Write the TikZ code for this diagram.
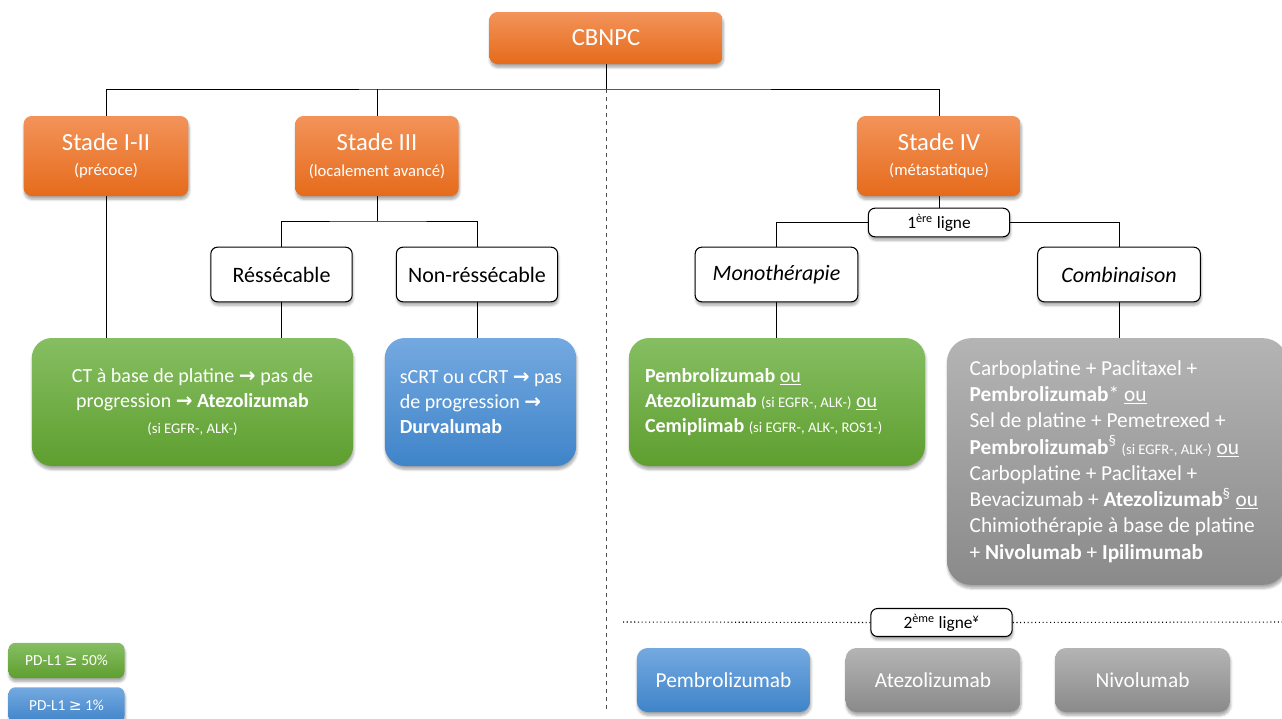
\documentclass[tikz,border=0pt]{standalone}
\usepackage{fontspec}
\setmainfont{Carlito}
\newfontfamily\symf{DejaVu Sans}
\usetikzlibrary{shadows.blur}
\definecolor{or1}{HTML}{F3935A}
\definecolor{or2}{HTML}{E56B1B}
\definecolor{gr1}{HTML}{86BE62}
\definecolor{gr2}{HTML}{5E9F2F}
\definecolor{bl1}{HTML}{74A9E0}
\definecolor{bl2}{HTML}{3F84C9}
\definecolor{gy1}{HTML}{B4B4B4}
\definecolor{gy2}{HTML}{8A8A8A}
\newcommand\arr{{\symf\bfseries →}}
\newcommand\smallsi{\fontsize{11}{13}\selectfont}
\newcommand\fsz[2]{\fontsize{#1}{#2}\selectfont}
\begin{document}
\begin{tikzpicture}[x=0.75pt,y=-0.75pt,
  shd/.style={blur shadow={shadow blur steps=6,shadow xshift=0.5pt,shadow yshift=-2.5pt,shadow opacity=35}},
  colbox/.style={shd,draw=none,text=white,inner sep=0pt},
  ob/.style={colbox,top color=or1,bottom color=or2,rounded corners=6pt,align=center},
  gb/.style={colbox,top color=gr1,bottom color=gr2},
  bb/.style={colbox,top color=bl1,bottom color=bl2},
  yb/.style={colbox,top color=gy1,bottom color=gy2},
  wb/.style={shd,draw=black,line width=0.8pt,fill=white,rounded corners=5pt,inner sep=0pt},
  ln/.style={line width=0.75pt},
]
\useasboundingbox (0,0) rectangle (1282,718);

% top level
\node[ob,minimum width=175pt,minimum height=39pt,font=\fsz{18.5}{22}] (cb) at (606,38) {CBNPC};
\node[ob,minimum width=123.5pt,minimum height=60pt,font=\fsz{12.5}{19}] (s12) at (106,156) {{\fsz{18.5}{19}Stade I-II}\\(précoce)};
\node[ob,minimum width=122.5pt,minimum height=60pt,font=\fsz{12.5}{19}] (s3) at (377,156) {{\fsz{18.5}{19}Stade III}\\(localement avancé)};
\node[ob,minimum width=122.5pt,minimum height=60pt,font=\fsz{12.5}{19}] (s4) at (939,156) {{\fsz{18.5}{19}Stade IV}\\(métastatique)};

% white boxes
\node[wb,minimum width=106pt,minimum height=41pt,font=\fsz{16.5}{19}] (res) at (281.5,274.5) {Réssécable};
\node[wb,minimum width=121pt,minimum height=41pt,font=\fsz{16.5}{19}] (nres) at (477,274.5) {Non-réssécable};
\node[wb,minimum width=122pt,minimum height=41pt,font=\fsz{16.5}{19}\itshape] (mono) at (776.5,274.5) {Monothérapie};
\node[wb,minimum width=122pt,minimum height=41pt,font=\fsz{16.5}{19}\itshape] (comb) at (1119,274.5) {Combinaison};
\node[wb,minimum width=106pt,minimum height=21.5pt,font=\fsz{13}{15}] (l1) at (939,222.5) {1\textsuperscript{ère} ligne};
\node[wb,minimum width=106pt,minimum height=21pt,font=\fsz{13}{15}] (l2) at (941.5,622.5) {2\textsuperscript{ème} ligne\textsuperscript{¥}};

% treatment boxes
\node[gb,rounded corners=15pt,minimum width=241pt,minimum height=96pt,align=center,font=\fsz{15}{19}] (g1) at (192.5,402) {CT à base de platine \arr{} pas de\\progression \arr{} \textbf{Atezolizumab}\\{\smallsi (si EGFR-, ALK-)}};
\node[bb,rounded corners=15pt,minimum width=143.5pt,minimum height=96pt,text width=121pt,align=flush left,font=\fsz{15}{19}] (b1) at (480.5,402) {\mbox{sCRT ou cCRT \arr{} pas}\\\mbox{de progression \arr{}}\\\mbox{\textbf{Durvalumab}}};
\node[gb,rounded corners=15pt,minimum width=222pt,minimum height=96pt,text width=198pt,align=flush left,font=\fsz{15}{19}] (g2) at (777,402) {\mbox{\textbf{Pembrolizumab} \underline{ou}}\\\mbox{\textbf{Atezolizumab} {\smallsi (si EGFR-, ALK-)} \underline{ou}}\\\mbox{\textbf{Cemiplimab} {\smallsi (si EGFR-, ALK-, ROS1-)}}};
\node[yb,rounded corners=18pt,minimum width=255pt,minimum height=185pt,text width=221pt,align=flush left,font=\fsz{16}{19.7}] (gy) at (1117,461.5) {\mbox{Carboplatine + Paclitaxel +}\\\mbox{\textbf{Pembrolizumab}* \underline{ou}}\\\mbox{Sel de platine + Pemetrexed +}\\\mbox{\textbf{Pembrolizumab}\textsuperscript{§} {\smallsi (si EGFR-, ALK-)} \underline{ou}}\\\mbox{Carboplatine + Paclitaxel +}\\\mbox{Bevacizumab + \textbf{Atezolizumab}\textsuperscript{§} \underline{ou}}\\\mbox{Chimiothérapie à base de platine}\\\mbox{+ \textbf{Nivolumab} + \textbf{Ipilimumab}}};

% second line boxes
\node[bb,rounded corners=8pt,minimum width=130pt,minimum height=48pt,font=\fsz{16}{19}] (p2) at (723.5,680) {Pembrolizumab};
\node[yb,rounded corners=8pt,minimum width=131pt,minimum height=48pt,font=\fsz{16}{19}] (a2) at (933,680) {Atezolizumab};
\node[yb,rounded corners=8pt,minimum width=131pt,minimum height=48pt,font=\fsz{16}{19}] (n2) at (1142.5,680) {Nivolumab};

% legend
\node[gb,rounded corners=5pt,minimum width=87pt,minimum height=26.5pt,font=\fsz{11.5}{14}] (lg) at (66.5,660.5) {PD-L1 {\symf ≥} 50\%};
\node[bb,rounded corners=5pt,minimum width=87pt,minimum height=26.5pt,font=\fsz{11.5}{14}] (lb) at (66.5,705) {PD-L1 {\symf ≥} 1\%};

% connectors
\coordinate (bus) at (606,89);
\coordinate (j3) at (377,221);
\coordinate (dend) at (606,712);
\coordinate (dl) at (623,622);
\coordinate (dr) at (1282,622);
\draw[ln] (cb.south) -- (bus);
\draw[ln] (s12.north) |- (bus) -| (s4.north);
\draw[ln] (s3.north) -- (s3.north |- bus);
\draw[ln] (s12.south) -- (s12.south |- g1.north);
\draw[ln] (s3.south) -- (j3);
\draw[ln] (res.north) |- (j3) -| (nres.north);
\draw[ln] (res.south) -- (res.south |- g1.north);
\draw[ln] (nres.south) -- (nres.south |- b1.north);
\draw[ln] (s4.south) -- (l1.north);
\draw[ln] (mono.north) |- (l1.west);
\draw[ln] (comb.north) |- (l1.east);
\draw[ln] (mono.south) -- (mono.south |- g2.north);
\draw[ln] (comb.south) -- (comb.south |- gy.north);
\draw[line width=0.6pt,dashed,black!70] (bus) -- (dend);
\draw[line width=0.8pt,dotted] (dl) -- (l2.west);
\draw[line width=0.8pt,dotted] (l2.east) -- (dr);
\end{tikzpicture}
\end{document}
